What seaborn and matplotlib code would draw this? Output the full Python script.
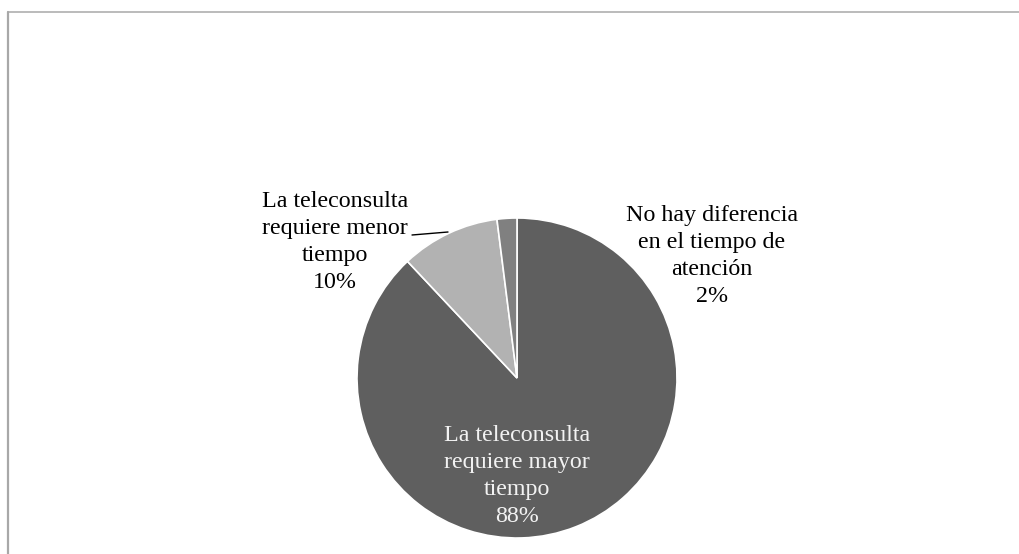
import matplotlib
matplotlib.use("Agg")
import matplotlib.pyplot as plt
from matplotlib.lines import Line2D
import seaborn as sns

# data
categories = [
    "La teleconsulta\nrequiere mayor\ntiempo",
    "La teleconsulta\nrequiere menor\ntiempo",
    "No hay diferencia\nen el tiempo de\natención",
]
shares = [88, 10, 2]
slice_colors = ["#5f5f5f", "#b2b2b2", "#808080"]

sns.set_theme(style="white")
plt.rcParams["font.family"] = ["Liberation Serif", "DejaVu Serif"]

W, H = 1019, 554
fig = plt.figure(figsize=(W / 100, H / 100), dpi=100)
ax = fig.add_axes([0, 0, 1, 1])

cx, cy, r = 517, 378, 160

ax.pie(
    shares,
    colors=slice_colors,
    startangle=90,
    counterclock=False,
    radius=1,
    wedgeprops=dict(edgecolor="white", linewidth=1.2),
)


def px(x, y):
    return (x - cx) / r, (cy - y) / r


label_pos = [px(517, 476), px(335, 242), px(712, 256)]
text_colors = ["#f2f2f2", "black", "black"]

for name, share, pos, tc in zip(categories, shares, label_pos, text_colors):
    ax.text(
        pos[0], pos[1], f"{name}\n{share}%",
        ha="center", va="center",
        fontsize=17.3, color=tc, linespacing=1.38,
    )

# leader line for the small slice label
p0 = px(412, 235)
p1 = px(448, 232)
ax.plot([p0[0], p1[0]], [p0[1], p1[1]], color="black", lw=1)

ax.set_aspect("auto")
ax.set_xlim(-cx / r, (W - cx) / r)
ax.set_ylim(-(H - cy) / r, cy / r)
ax.axis("off")

# chart frame (partly cropped)
fx = 8 / W
fy = 1 - 12 / H
fig.add_artist(Line2D([fx, 1.01], [fy, fy], transform=fig.transFigure,
                      color="#b5b5b5", lw=1.3))
fig.add_artist(Line2D([fx, fx], [-0.01, fy], transform=fig.transFigure,
                      color="#a8a8a8", lw=1.6))

fig.savefig("out.png", dpi=100)
